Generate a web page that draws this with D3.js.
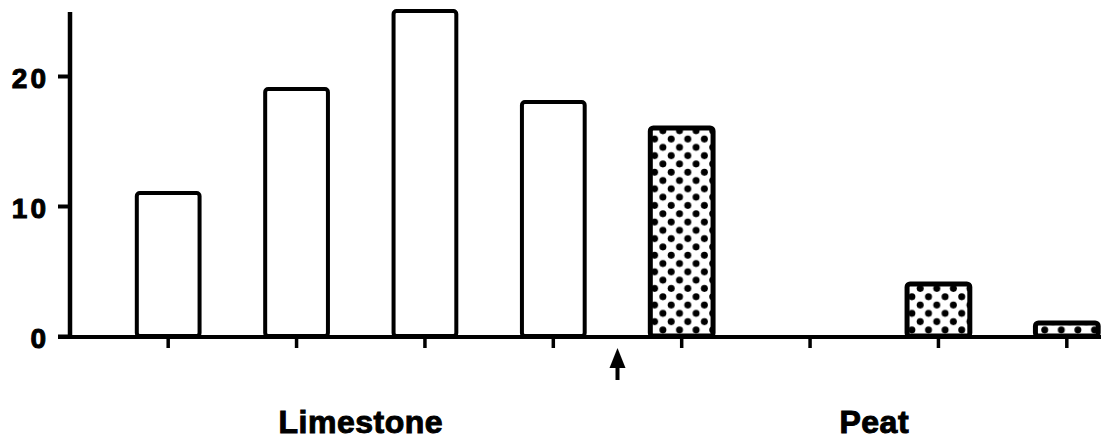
<!DOCTYPE html>
<html>
<head>
<meta charset="utf-8">
<script src="https://cdn.jsdelivr.net/npm/d3@7"></script>
<style>
  html, body { margin: 0; padding: 0; background: #fff; }
  svg { display: block; }
  text { font-family: "Liberation Sans", Arial, Helvetica, sans-serif; font-weight: bold; fill: #000; stroke: #000; stroke-width: 1; }
</style>
</head>
<body>
<script>
// ---- data ----
const categories = ["L1", "L2", "L3", "L4", "P1", "P2", "P3", "P4"];
const values = [11, 19, 25, 18, 16, null, 4, 1];
const fills = ["open", "open", "open", "open", "dotted", "dotted", "dotted", "dotted"];
const groupLabels = ["Limestone", "Peat"];
const groupMembers = [["L1", "L2", "L3", "L4"], ["P1", "P2", "P3", "P4"]];
const yTicks = [0, 10, 20];
const yMax = 25;

// ---- layout ----
const W = 1103, H = 441;
const axisX = 70, zeroY = 336;

const svg = d3.select("body").append("svg").attr("width", W).attr("height", H);

const x = d3.scaleBand().domain(categories).range([104, 1131]).paddingInner(0.48).paddingOuter(0.24);
const y = d3.scaleLinear().domain([0, yMax]).range([zeroY, 11]);

// dotted pattern
const defs = svg.append("defs");
const pat = defs.append("pattern").attr("id", "dots").attr("patternUnits", "userSpaceOnUse")
  .attr("width", 16.6).attr("height", 16.6).attr("x", 3).attr("y", 2);
pat.append("rect").attr("width", 16.6).attr("height", 16.6).attr("fill", "#fff");
pat.append("circle").attr("cx", 4.2).attr("cy", 4.2).attr("r", 3.5).attr("fill", "#000");
pat.append("circle").attr("cx", 12.5).attr("cy", 12.5).attr("r", 3.5).attr("fill", "#000");

// bars
const data = categories.map((c, i) => ({ c, v: values[i], f: fills[i] })).filter(d => d.v !== null);
svg.append("g").selectAll("rect").data(data).join("rect")
  .attr("x", d => x(d.c) + 2)
  .attr("y", d => y(d.v))
  .attr("width", x.bandwidth() - 4)
  .attr("height", d => y(0) - y(d.v))
  .attr("rx", 3)
  .attr("fill", d => d.f === "dotted" ? "url(#dots)" : "#fff")
  .attr("stroke", "#000")
  .attr("stroke-width", d => d.f === "dotted" ? 5 : 4);

// y axis
const yAxis = d3.axisLeft(y).tickValues(yTicks).tickSize(12).tickPadding(10);
const gy = svg.append("g").attr("transform", `translate(${axisX},0)`).call(yAxis);
gy.select(".domain").remove();
gy.selectAll(".tick line").attr("stroke", "#000").attr("stroke-width", 4);
gy.selectAll(".tick text").attr("font-size", 28).attr("letter-spacing", 3)
  .attr("x", -21).attr("dy", "0.42em");
svg.append("line").attr("x1", axisX).attr("x2", axisX).attr("y1", y(yMax) + 1).attr("y2", zeroY + 2)
  .attr("stroke", "#000").attr("stroke-width", 4.5);

// x axis
const xAxis = d3.axisBottom(x).tickSize(11).tickFormat("");
const gx = svg.append("g").attr("transform", `translate(0,${zeroY + 1})`).call(xAxis);
gx.select(".domain").remove();
gx.selectAll(".tick line").attr("stroke", "#000").attr("stroke-width", 3.5);
svg.append("line").attr("x1", 58).attr("x2", 1101).attr("y1", zeroY + 1).attr("y2", zeroY + 1)
  .attr("stroke", "#000").attr("stroke-width", 4);

// arrow between groups
const ax = (x("L4") + x("P1")) / 2 + x.bandwidth() / 2;
svg.append("path")
  .attr("d", `M${ax},348 L${ax + 8},368 L${ax - 8},368 Z`)
  .attr("fill", "#000");
svg.append("line").attr("x1", ax).attr("x2", ax).attr("y1", 360).attr("y2", 380)
  .attr("stroke", "#000").attr("stroke-width", 4);

// group labels
svg.append("g").selectAll("text").data(groupLabels).join("text")
  .attr("x", (d, i) => d3.mean(groupMembers[i], c => x(c) + x.bandwidth() / 2))
  .attr("y", 433)
  .attr("text-anchor", "middle")
  .attr("font-size", 32)
  .attr("letter-spacing", 0.5)
  .text(d => d);
</script>
</body>
</html>
